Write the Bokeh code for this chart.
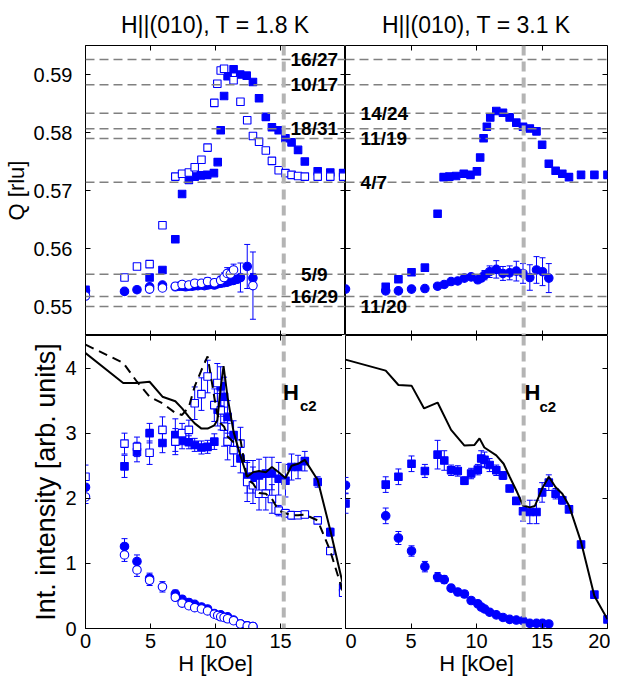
from bokeh.plotting import figure
from bokeh.layouts import gridplot
from bokeh.models import (Range1d, LinearAxis, FixedTicker, Span, Label, Whisker,
                          TeeHead, ColumnDataSource, CustomJSTickFormatter)
from bokeh.embed import file_html
from bokeh.resources import INLINE

BLUE = "#0000ff"
FONT = "Liberation Sans"

TITLES = ["H||(010), T = 1.8 K", "H||(010), T = 3.1 K"]
X_RANGE = (0, 20)
Q_RANGE = (0.545, 0.595)
I_RANGE = (0, 4.5)
X_TICKS = [0, 5, 10, 15, 20]
X_TICKS_LEFT_LABELLED = [0, 5, 10, 15]
Q_TICKS = [0.55, 0.56, 0.57, 0.58, 0.59]
I_TICKS = [0, 1, 2, 3, 4]
HC2 = [15.25, 13.6]

FRACTIONS = [(16, 27), (10, 17), (14, 24), (18, 31), (11, 19), (4, 7), (5, 9), (16, 29), (11, 20)]
FRAC_LEFT = [(16, 27), (10, 17), (18, 31), (5, 9), (16, 29)]
FRAC_RIGHT = [(14, 24), (11, 19), (4, 7), (11, 20)]

# ---------------- top-left: Q, T = 1.8 K ----------------
tl_fsq_h = [0, 4.93, 5.92, 6.91, 7.43, 7.95, 8.40, 8.87, 9.36, 9.88, 10.17, 10.40, 10.66, 10.93, 11.39,
            11.90, 12.40, 12.88, 13.35, 13.87, 14.34, 14.86, 15.38, 15.85, 16.35, 16.87, 17.86, 18.83, 19.82]
tl_fsq_q = [0.5529, 0.5550, 0.5563, 0.5616, 0.5694, 0.5718, 0.5724, 0.5726, 0.5727, 0.5730, 0.5749, 0.5804,
            0.5863, 0.5897, 0.5909, 0.5900, 0.5898, 0.5887, 0.5859, 0.5827, 0.5809, 0.5804, 0.5790, 0.5783,
            0.5770, 0.5750, 0.5733, 0.5731, 0.5730]

tl_osq_h = [3.00, 3.96, 4.93, 5.92, 6.91, 7.43, 7.95, 8.40, 8.92, 9.39, 9.91, 10.14, 10.40, 10.66, 11.39,
            11.92, 12.44, 12.88, 13.35, 13.87, 14.34, 14.86, 15.38, 15.85, 16.35, 16.87, 17.86, 18.83, 19.82]
tl_osq_q = [0.5550, 0.5569, 0.5573, 0.5640, 0.5724, 0.5729, 0.5731, 0.5740, 0.5753, 0.5774, 0.5851, 0.5884,
            0.5907, 0.5910, 0.5890, 0.5853, 0.5821, 0.5794, 0.5784, 0.5769, 0.5751, 0.5735, 0.5730, 0.5727,
            0.5725, 0.5724, 0.5724, 0.5724, 0.5724]
tl_osq_e = [0.0002] * 10 + [0.0005, 0.0004] + [0.0002] * 17

tl_fci_h = [0, 3.00, 3.96, 4.93, 5.92, 6.91, 7.20, 7.43, 7.70, 7.95, 8.20, 8.40, 8.65, 8.92, 9.15, 9.39,
            9.65, 9.91, 10.14, 10.40, 10.66, 10.90, 11.15, 11.39, 11.65, 11.92, 12.44, 12.88]
tl_fci_q = [0.5527, 0.5526, 0.5529, 0.5534, 0.5537, 0.5534, 0.5535, 0.5535, 0.5534, 0.5535, 0.5535, 0.5536,
            0.5536, 0.5537, 0.5536, 0.5537, 0.5538, 0.5537, 0.5539, 0.5540, 0.5541, 0.5542, 0.5544, 0.5545,
            0.5547, 0.5550, 0.5569, 0.5549]
tl_fci_e = [0.0002] * 22 + [0.0004, 0.0005, 0.0006, 0.0025, 0.0038, 0.0008]

tl_oci_h = [0, 4.93, 5.92, 6.91, 7.43, 7.95, 8.40, 8.92, 9.39, 9.91, 10.40, 10.66, 10.90, 11.15, 11.39, 12.88]
tl_oci_q = [0.5518, 0.5530, 0.5532, 0.5535, 0.5538, 0.5537, 0.5540, 0.5540, 0.5543, 0.5541, 0.5545, 0.5550,
            0.5557, 0.5556, 0.5563, 0.5536]
tl_oci_e = [0.0003, 0.0003, 0.0003, 0.0004, 0.0005, 0.0005, 0.0006, 0.0006, 0.0007, 0.0006, 0.0007, 0.0008,
            0.0010, 0.0010, 0.0010, 0.0058]

# ---------------- top-right: Q, T = 3.1 K ----------------
tr_fsq_h = [3.07, 4.04, 5.04, 6.06, 7.03, 7.49, 7.93, 8.44, 9.03, 9.54, 10.03, 10.28, 10.54, 10.79, 11.05,
            11.51, 12.02, 12.53, 13.04, 13.55, 14.07, 14.58, 15.01, 15.52, 16.04, 16.55, 17.06, 17.98, 19.00, 20.00]
tr_fsq_q = [0.5534, 0.5547, 0.5559, 0.5567, 0.5660, 0.5723, 0.5724, 0.5725, 0.5729, 0.5727, 0.5733, 0.5757,
            0.5790, 0.5810, 0.5826, 0.5837, 0.5834, 0.5826, 0.5817, 0.5810, 0.5807, 0.5802, 0.5779, 0.5746,
            0.5734, 0.5729, 0.5723, 0.5727, 0.5727, 0.5727]

tr_fci_h = [0, 3.07, 4.04, 5.04, 6.06, 7.03, 7.54, 8.06, 8.57, 9.08, 9.59, 10.10, 10.36, 10.61, 11.00, 11.51,
            12.02, 12.53, 13.04, 13.55, 14.07, 14.58, 15.04, 15.52]
tr_fci_q = [0.5530, 0.5527, 0.5527, 0.5530, 0.5531, 0.5535, 0.5538, 0.5543, 0.5544, 0.5549, 0.5551, 0.5546,
            0.5549, 0.5554, 0.5560, 0.5564, 0.5557, 0.5558, 0.5561, 0.5557, 0.5550, 0.5563, 0.5560, 0.5549]
tr_fci_e = [0.0002] * 10 + [0.0003, 0.0004, 0.0005, 0.0008, 0.0010, 0.0015, 0.0012, 0.0012, 0.0017, 0.0017,
                            0.0022, 0.0023, 0.0024, 0.0025]

# ---------------- bottom-left: intensity, T = 1.8 K ----------------
bl_fsq_h = [3.00, 3.96, 4.93, 5.92, 6.91, 7.43, 7.95, 8.40, 8.92, 9.39, 9.91, 10.17, 10.40, 10.66, 10.93, 11.39,
            11.92, 12.44, 12.88, 13.35, 13.87, 14.34, 14.86, 15.38, 15.85, 16.35, 16.87, 17.86, 18.83, 19.82]
bl_fsq_i = [2.49, 2.71, 3.00, 2.85, 2.97, 2.88, 2.86, 2.82, 2.78, 2.79, 2.87, 3.36, 3.72, 3.56, 3.25, 2.97,
            2.61, 2.33, 2.33, 2.35, 2.38, 2.38, 2.30, 2.27, 2.48, 2.48, 2.57, 2.25, 1.48, 0.63]
bl_fsq_e = [0.17, 0.15, 0.15, 0.15, 0.25, 0.12, 0.10, 0.10, 0.10, 0.10, 0.12, 0.25, 0.30, 0.30, 0.25, 0.22,
            0.22, 0.25, 0.25, 0.25, 0.25, 0.25, 0.25, 0.25, 0.20, 0.18, 0.15, 0.08, 0.06, 0.05]

bl_osq_h = [0, 3.00, 3.96, 4.93, 5.92, 6.91, 7.43, 7.95, 8.40, 8.92, 9.39, 9.91, 10.14, 10.40, 10.66, 10.93,
            11.39, 11.92, 12.44, 12.88, 13.35, 13.87, 14.34, 14.86, 15.38, 15.85, 16.35, 16.87, 17.86, 18.83, 19.82]
bl_osq_i = [2.33, 2.84, 2.79, 2.70, 3.05, 2.87, 3.00, 3.05, 3.46, 3.60, 3.87, 3.43, 3.77, 3.35, 3.10, 2.87,
            2.74, 2.84, 2.25, 2.20, 2.07, 2.07, 1.99, 1.81, 1.77, 1.74, 1.74, 1.75, 1.66, 1.19, 0.55]
bl_osq_e = [0.18, 0.16, 0.15, 0.18, 0.20, 0.20, 0.15, 0.15, 0.25, 0.25, 0.25, 0.25, 0.30, 0.30, 0.30, 0.28,
            0.25, 0.25, 0.30, 0.28, 0.25, 0.25, 0.22, 0.08, 0.06, 0.06, 0.05, 0.05, 0.05, 0.05, 0.05]

bl_fci_h = [0, 3.00, 3.96, 4.93, 6.91, 7.43, 7.95, 8.40, 8.92, 9.39, 9.91, 10.40, 10.93, 11.39, 11.92, 12.44, 12.88]
bl_fci_i = [2.17, 1.26, 1.03, 0.77, 0.53, 0.45, 0.40, 0.37, 0.33, 0.30, 0.23, 0.21, 0.18, 0.13, 0.07, 0.04, 0.03]
bl_fci_e = [0.12, 0.12, 0.10, 0.08, 0.06, 0.05, 0.05, 0.04, 0.04, 0.04, 0.04, 0.04, 0.03, 0.03, 0.03, 0.03, 0.03]

bl_oci_h = [0, 3.00, 3.96, 4.93, 5.92, 6.91, 7.43, 7.95, 8.40, 8.92, 9.39, 9.91, 10.17, 10.40, 10.66, 10.93,
            11.39, 11.92, 12.44, 12.88]
bl_oci_i = [2.02, 1.13, 0.90, 0.74, 0.64, 0.48, 0.39, 0.35, 0.32, 0.30, 0.27, 0.22, 0.20, 0.18, 0.17, 0.15,
            0.12, 0.07, 0.04, 0.03]
bl_oci_e = [0.10, 0.10, 0.10, 0.08, 0.08, 0.05, 0.04, 0.04, 0.04, 0.03, 0.03, 0.03, 0.03, 0.03, 0.03, 0.03,
            0.03, 0.03, 0.03, 0.03]

bl_sol_h = [0, 2.90, 3.96, 4.93, 5.92, 6.91, 7.43, 7.95, 8.40, 8.92, 9.39, 9.91, 10.14, 10.40, 10.62, 10.93,
            11.39, 11.92, 12.44, 12.88, 13.35, 13.87, 14.34, 14.86, 15.38, 15.85, 16.35, 16.87, 17.86, 18.83, 19.82]
bl_sol_i = [4.23, 3.77, 3.77, 3.79, 3.56, 3.49, 3.38, 3.25, 3.15, 3.07, 3.07, 3.12, 3.20, 3.70, 4.03, 3.55,
            3.02, 2.65, 2.33, 2.40, 2.42, 2.40, 2.48, 2.40, 2.31, 2.50, 2.53, 2.59, 2.28, 1.51, 0.66]

bl_das_h = [0, 2.90, 3.96, 4.93, 5.92, 6.91, 7.43, 7.95, 8.40, 8.92, 9.39, 9.65, 9.91, 10.14, 10.40, 10.66,
            10.93, 11.39, 11.92, 12.44, 12.88, 13.35, 13.87, 14.34, 14.86, 15.38, 15.85, 16.35, 16.87, 17.86,
            18.83, 19.82]
bl_das_i = [4.36, 4.08, 3.79, 3.56, 3.46, 3.31, 3.28, 3.40, 3.72, 3.97, 4.18, 3.87, 3.55, 3.30, 3.15, 3.10,
            2.95, 2.86, 2.90, 2.29, 2.23, 2.08, 2.07, 1.99, 1.81, 1.77, 1.74, 1.74, 1.75, 1.66, 1.19, 0.55]

# ---------------- bottom-right: intensity, T = 3.1 K ----------------
br_fsq_h = [0, 3.07, 4.04, 5.04, 6.06, 7.03, 7.54, 8.06, 8.57, 9.08, 9.59, 10.10, 10.36, 10.61, 11.00, 11.51,
            12.02, 12.53, 13.04, 13.55, 14.07, 14.58, 15.01, 15.52, 16.04, 16.55, 17.06, 17.98, 19.00, 20.00]
br_fsq_i = [1.92, 2.21, 2.33, 2.53, 2.42, 2.67, 2.58, 2.43, 2.42, 2.27, 2.38, 2.44, 2.61, 2.59, 2.51, 2.43,
            2.35, 2.15, 1.96, 1.80, 1.79, 1.79, 2.09, 2.24, 2.07, 1.97, 1.83, 1.29, 0.52, 0.14]
br_fsq_e = [0.15, 0.12, 0.12, 0.12, 0.10, 0.22, 0.15, 0.08, 0.08, 0.06, 0.08, 0.08, 0.12, 0.12, 0.10, 0.08,
            0.06, 0.05, 0.05, 0.15, 0.18, 0.18, 0.15, 0.12, 0.08, 0.06, 0.05, 0.04, 0.04, 0.04]

br_fci_h = [0, 3.07, 4.04, 5.04, 6.06, 7.03, 7.54, 8.06, 8.57, 9.08, 9.59, 10.10, 10.36, 10.61, 11.00, 11.51,
            12.02, 12.53, 13.04, 13.55, 14.07, 14.58, 15.04, 15.52]
br_fci_i = [2.20, 1.73, 1.39, 1.19, 0.95, 0.79, 0.75, 0.62, 0.56, 0.53, 0.43, 0.38, 0.33, 0.30, 0.25, 0.21,
            0.17, 0.14, 0.13, 0.12, 0.08, 0.08, 0.08, 0.07]
br_fci_e = [0.12, 0.12, 0.10, 0.08, 0.08, 0.07, 0.06, 0.05, 0.05, 0.05, 0.04, 0.04, 0.04, 0.03, 0.03, 0.03,
            0.03, 0.03, 0.03, 0.03, 0.03, 0.03, 0.03, 0.03]

br_sol_h = [0, 3.07, 4.04, 5.04, 6.00, 7.03, 8.06, 9.08, 9.85, 10.23, 10.60, 11.51, 12.07, 12.53, 13.04, 13.55,
            14.07, 14.45, 15.01, 15.52, 16.04, 16.55, 17.06, 17.98, 19.00, 20.00]
br_sol_i = [4.13, 3.96, 3.74, 3.73, 3.38, 3.47, 3.05, 2.81, 2.82, 2.92, 2.78, 2.66, 2.53, 2.33, 2.12, 1.89,
            1.86, 1.88, 2.15, 2.33, 2.17, 2.07, 1.89, 1.33, 0.50, 0.14]


TICK_FS = "20px"
QLABEL_FS = "22px"
ILABEL_FS = "27px"
XLABEL_FS = "22px"
EMPTY = CustomJSTickFormatter(code="return ''")


def base_fig(yr, fw, fh, left, right, top, bottom):
    p = figure(frame_width=fw, frame_height=fh, x_range=Range1d(*X_RANGE), y_range=Range1d(*yr),
               x_axis_location=None, y_axis_location=None, output_backend="svg",
               toolbar_location=None, min_border_left=left, min_border_right=right,
               min_border_top=top, min_border_bottom=bottom)
    p.grid.visible = False
    p.outline_line_color = "black"
    p.outline_line_width = 1
    p.background_fill_color = "white"
    p.border_fill_color = "white"
    return p


def add_axis(p, side, ticks, fixed=None, label=None, label_size=XLABEL_FS, standoff=5, label_standoff=0):
    ax = LinearAxis(ticker=FixedTicker(ticks=ticks))
    ax.major_tick_in = 5
    ax.major_tick_out = 0
    ax.minor_tick_line_color = None
    ax.major_tick_line_color = "black"
    if fixed is not None:
        ax.fixed_location = fixed
        ax.axis_line_color = None
        ax.formatter = EMPTY
        ax.major_label_standoff = 0
    else:
        ax.axis_line_color = "black"
        ax.major_label_text_font = FONT
        ax.major_label_text_font_size = TICK_FS
        ax.major_label_text_color = "black"
        ax.major_label_standoff = standoff
    if label:
        ax.axis_label = label
        ax.axis_label_text_font = FONT
        ax.axis_label_text_font_size = label_size
        ax.axis_label_text_font_style = "normal"
        ax.axis_label_text_color = "black"
        ax.axis_label_standoff = label_standoff
    p.add_layout(ax, side)
    return ax


def errbars(p, h, v, e):
    src = ColumnDataSource(dict(x=h, lo=[a - b for a, b in zip(v, e)], hi=[a + b for a, b in zip(v, e)]))
    p.add_layout(Whisker(source=src, base="x", lower="lo", upper="hi", dimension="height",
                         line_color=BLUE, line_width=1,
                         upper_head=TeeHead(size=6, line_color=BLUE, line_width=1),
                         lower_head=TeeHead(size=6, line_color=BLUE, line_width=1)))


def sq(p, h, v, filled):
    p.scatter(h, v, marker="square", size=7.5, line_color=BLUE, line_width=1.1,
              fill_color=BLUE if filled else "white")


def ci(p, h, v, filled):
    p.scatter(h, v, marker="circle", size=8.5, line_color=BLUE, line_width=1.1,
              fill_color=BLUE if filled else "white")


def hc2_line(p, loc):
    p.add_layout(Span(location=loc, dimension="height", line_color="#b4b4b4", line_width=4,
                      line_dash="10 6"))


def frac_lines(p):
    for n, d in FRACTIONS:
        p.add_layout(Span(location=n / d, dimension="width", line_color="#808080", line_width=1.5,
                          line_dash="9 5"))


def frac_label(p, n, d, x, align):
    p.add_layout(Label(x=x, y=n / d, text=f"{n}/{d}", text_font=FONT, text_font_size="19px",
                       text_font_style="bold", text_color="black", text_align=align,
                       text_baseline="middle"))


def hc2_label(p, xh, yh, xs, ys):
    p.add_layout(Label(x=xh, y=yh, text="H", text_font=FONT, text_font_size="22px",
                       text_font_style="bold", text_color="black", text_baseline="bottom"))
    p.add_layout(Label(x=xs, y=ys, text="c2", text_font=FONT, text_font_size="15px",
                       text_font_style="bold", text_color="black", text_baseline="bottom"))


def style_title(p, text):
    p.title.text = text
    p.title.align = "center"
    p.title.text_font = FONT
    p.title.text_font_size = "23px"
    p.title.text_font_style = "normal"
    p.title.text_color = "black"
    p.title.standoff = 16


LB, RB, TB, BB = 82, 3, 45, 51
FW_L, FW_R, FH_T, FH_B = 260, 262, 290, 293

# top-left
p1 = base_fig(Q_RANGE, FW_L, FH_T, LB, 0, TB, 0)
style_title(p1, TITLES[0])
add_axis(p1, "left", Q_TICKS, label="Q [rlu]", label_size=QLABEL_FS, standoff=13, label_standoff=2)
add_axis(p1, "right", Q_TICKS, fixed=X_RANGE[1])
add_axis(p1, "above", X_TICKS, fixed=Q_RANGE[1])
add_axis(p1, "below", X_TICKS, fixed=Q_RANGE[0])
frac_lines(p1)
hc2_line(p1, HC2[0])
for n, d in FRAC_LEFT:
    frac_label(p1, n, d, 17.6, "center")
errbars(p1, tl_osq_h, tl_osq_q, tl_osq_e)
errbars(p1, tl_fci_h, tl_fci_q, tl_fci_e)
errbars(p1, tl_oci_h, tl_oci_q, tl_oci_e)
sq(p1, tl_fsq_h, tl_fsq_q, True)
sq(p1, tl_osq_h, tl_osq_q, False)
ci(p1, tl_fci_h, tl_fci_q, True)
ci(p1, tl_oci_h, tl_oci_q, False)

# top-right
p2 = base_fig(Q_RANGE, FW_R, FH_T, 0, RB, TB, 0)
style_title(p2, TITLES[1])
add_axis(p2, "left", Q_TICKS, fixed=X_RANGE[0])
add_axis(p2, "right", Q_TICKS, fixed=X_RANGE[1])
add_axis(p2, "above", X_TICKS, fixed=Q_RANGE[1])
add_axis(p2, "below", X_TICKS, fixed=Q_RANGE[0])
frac_lines(p2)
hc2_line(p2, HC2[1])
for n, d in FRAC_RIGHT:
    frac_label(p2, n, d, 1.15, "left")
errbars(p2, tr_fci_h, tr_fci_q, tr_fci_e)
sq(p2, tr_fsq_h, tr_fsq_q, True)
ci(p2, tr_fci_h, tr_fci_q, True)

# bottom-left
p3 = base_fig(I_RANGE, FW_L, FH_B, LB, 0, 0, BB)
add_axis(p3, "left", I_TICKS, label="Int. intensity [arb. units]", label_size=ILABEL_FS,
         standoff=9, label_standoff=1)
add_axis(p3, "below", X_TICKS_LEFT_LABELLED, label="H [kOe]")
add_axis(p3, "right", I_TICKS, fixed=X_RANGE[1])
add_axis(p3, "above", X_TICKS, fixed=I_RANGE[1])
hc2_line(p3, HC2[0])
hc2_label(p3, 15.2, 3.43, 16.5, 3.30)
errbars(p3, bl_fsq_h, bl_fsq_i, bl_fsq_e)
errbars(p3, bl_osq_h, bl_osq_i, bl_osq_e)
errbars(p3, bl_fci_h, bl_fci_i, bl_fci_e)
errbars(p3, bl_oci_h, bl_oci_i, bl_oci_e)
sq(p3, bl_fsq_h, bl_fsq_i, True)
sq(p3, bl_osq_h, bl_osq_i, False)
ci(p3, bl_fci_h, bl_fci_i, True)
ci(p3, bl_oci_h, bl_oci_i, False)
p3.line(bl_sol_h, bl_sol_i, line_color="black", line_width=2)
p3.line(bl_das_h, bl_das_i, line_color="black", line_width=2, line_dash="9 6")

# bottom-right
p4 = base_fig(I_RANGE, FW_R, FH_B, 0, RB, 0, BB)
add_axis(p4, "below", X_TICKS, label="H [kOe]")
add_axis(p4, "left", I_TICKS, fixed=X_RANGE[0])
add_axis(p4, "right", I_TICKS, fixed=X_RANGE[1])
add_axis(p4, "above", X_TICKS, fixed=I_RANGE[1])
hc2_line(p4, HC2[1])
hc2_label(p4, 13.66, 3.43, 14.8, 3.28)
errbars(p4, br_fsq_h, br_fsq_i, br_fsq_e)
errbars(p4, br_fci_h, br_fci_i, br_fci_e)
sq(p4, br_fsq_h, br_fsq_i, True)
ci(p4, br_fci_h, br_fci_i, True)
p4.line(br_sol_h, br_sol_i, line_color="black", line_width=2)

grid = gridplot([[p1, p2], [p3, p4]], toolbar_location=None)

open("out.html", "w").write(file_html(grid, INLINE))
